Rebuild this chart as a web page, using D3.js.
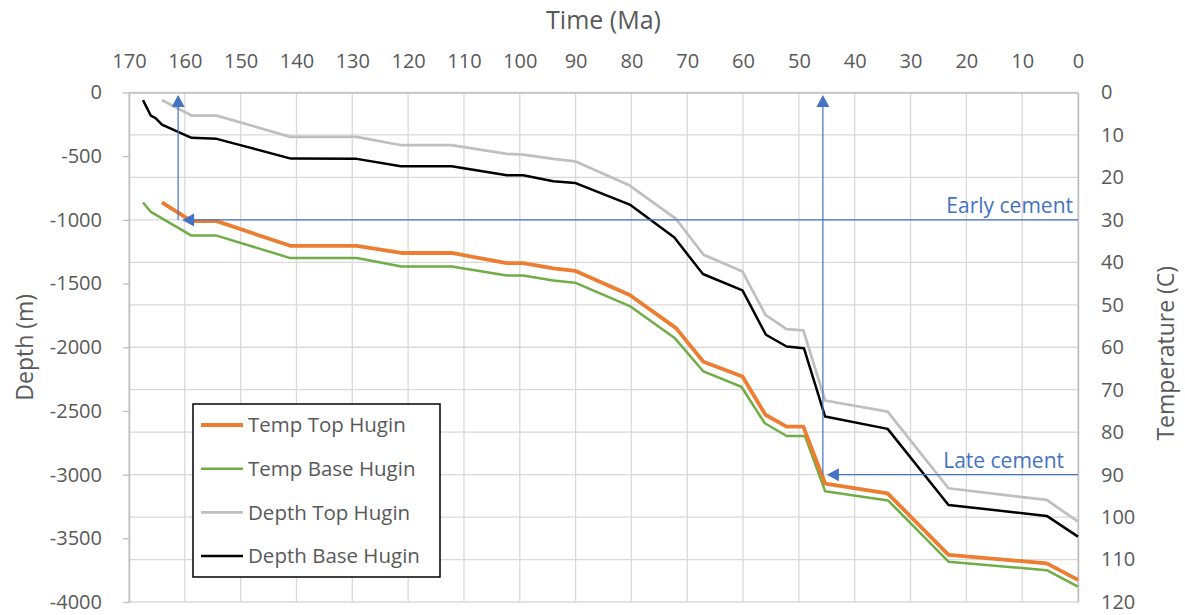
<!DOCTYPE html>
<html lang="en">
<head>
<meta charset="UTF-8">
<title>Hugin burial and temperature history</title>
<script src="https://d3js.org/d3.v7.min.js"></script>
<style>
  body { margin: 0; background: #fff; }
  text { font-family: "Open Sans", sans-serif; fill: #595959; }
</style>
</head>
<body>
<svg width="1185" height="615"></svg>
<script>
// axis ticks
const timeTicks = d3.range(170, -1, -10);
const depthTicks = d3.range(0, -4001, -500);
const tempTicks = d3.range(0, 121, 10);

// Top Hugin: time (Ma), depth (m), temperature (C)
const topTimes = [164.1, 158.8, 154.3, 141.1, 129.2, 121.2, 112.2, 102.3, 99.4, 94.0, 90.1, 80.3, 72.0, 67.1, 60.1, 56.0, 52.2, 49.2, 45.3, 34.1, 23.2, 5.6, 0];
const depthTop = [-60, -181, -181, -348, -348, -414, -414, -482, -487, -521, -540, -731, -993, -1273, -1406, -1745, -1857, -1868, -2418, -2505, -3107, -3199, -3369];
const tempTop = [25.9, 30.3, 30.3, 36.1, 36.1, 37.8, 37.8, 40.2, 40.2, 41.4, 42.0, 47.7, 55.5, 63.4, 66.9, 75.9, 78.7, 78.7, 92.1, 94.4, 108.9, 110.9, 114.8];

// Base Hugin
const depthBaseTimes = [167.5, 166.1, 165.3, 164.1, 161.5, 158.8, 154.3, 141.0, 129.2, 121.3, 112.2, 102.3, 99.4, 94.0, 90.1, 80.3, 72.3, 67.2, 60.1, 55.9, 52.2, 49.1, 45.3, 34.1, 23.2, 5.6, 0];
const depthBase = [-60, -181, -199, -252, -304, -356, -364, -519, -521, -579, -579, -650, -650, -697, -710, -880, -1139, -1425, -1554, -1902, -1994, -2007, -2544, -2641, -3238, -3324, -3487];
const tempBaseTimes = [167.5, 166.1, 158.8, 154.3, 141.1, 129.2, 121.2, 112.2, 102.3, 99.4, 94.0, 90.1, 80.3, 72.2, 67.1, 60.3, 56.1, 52.2, 48.9, 45.3, 34.0, 23.2, 5.6, 0];
const tempBase = [25.9, 28.1, 33.7, 33.7, 39.0, 39.0, 41.0, 41.0, 43.1, 43.1, 44.3, 44.8, 50.3, 57.9, 65.7, 69.3, 77.9, 80.9, 80.9, 93.9, 96.1, 110.5, 112.5, 116.4];

// cement events
const cementNames = ["Early cement", "Late cement"];
const cementTimes = [161.2, 45.7];
const cementTemps = [30, 90];

const legendNames = ["Temp Top Hugin", "Temp Base Hugin", "Depth Top Hugin", "Depth Base Hugin"];
const legendColors = ["#ed7d31", "#70ad47", "#bfbfbf", "#000000"];
const legendWidths = [3.8, 2.5, 2.75, 2.5];

const plotLeft = 129, plotRight = 1078, plotTop = 92.5, plotBottom = 602;
const svg = d3.select("svg");

const x = d3.scaleLinear().domain([170, 0]).range([plotLeft, plotRight]);
const yDepth = d3.scaleLinear().domain([0, -4000]).range([plotTop, plotBottom]);
const yTemp = d3.scaleLinear().domain([0, 120]).range([plotTop, plotBottom]);

// gridlines
svg.append("g").selectAll("line").data(tempTicks).join("line")
    .attr("x1", plotLeft).attr("x2", plotRight)
    .attr("y1", d => yTemp(d)).attr("y2", d => yTemp(d))
    .attr("stroke", "#d9d9d9").attr("stroke-width", 1.3);
svg.append("g").selectAll("line").data(timeTicks).join("line")
    .attr("x1", d => x(d)).attr("x2", d => x(d))
    .attr("y1", plotTop).attr("y2", plotBottom)
    .attr("stroke", "#d9d9d9").attr("stroke-width", 1.3);

// axes
function styleAxis(g) {
    g.attr("font-family", null).attr("font-size", null);
    g.select(".domain").attr("stroke", "#bfbfbf").attr("stroke-width", 1.5);
    g.selectAll(".tick line").attr("stroke", "#bfbfbf").attr("stroke-width", 1.3);
    g.selectAll(".tick text").attr("fill", "#595959").style("font-size", "20px");
}

svg.append("g")
    .attr("transform", `translate(0,${plotTop})`)
    .call(d3.axisTop(x).tickValues(timeTicks).tickSize(0).tickPadding(25).tickFormat(d => String(d)))
    .call(styleAxis);

svg.append("g")
    .attr("transform", `translate(${plotLeft},0)`)
    .call(d3.axisLeft(yDepth).tickValues(depthTicks).tickSize(6).tickSizeOuter(0).tickPadding(21).tickFormat(d => String(d)))
    .call(styleAxis);

svg.append("g")
    .attr("transform", `translate(${plotRight},0)`)
    .call(d3.axisRight(yTemp).tickValues(tempTicks).tickSize(0).tickPadding(23).tickFormat(d => String(d)))
    .call(styleAxis);

// axis titles
svg.append("text").attr("x", (plotLeft + plotRight) / 2).attr("y", 29)
    .attr("text-anchor", "middle").style("font-size", "25px").text("Time (Ma)");
svg.append("text").attr("transform", `translate(33,${(plotTop + plotBottom) / 2}) rotate(-90)`)
    .attr("text-anchor", "middle").style("font-size", "23px").text("Depth (m)");
svg.append("text").attr("transform", `translate(1174,${(plotTop + plotBottom) / 2 + 6}) rotate(-90)`)
    .attr("text-anchor", "middle").style("font-size", "23px").text("Temperature (C)");

// series
const series = [
    { times: topTimes, values: depthTop, y: yDepth, i: 2 },
    { times: depthBaseTimes, values: depthBase, y: yDepth, i: 3 },
    { times: tempBaseTimes, values: tempBase, y: yTemp, i: 1 },
    { times: topTimes, values: tempTop, y: yTemp, i: 0 }
];
series.forEach(s => {
    const line = d3.line().x(d => x(d[0])).y(d => s.y(d[1]));
    svg.append("path")
        .datum(d3.zip(s.times, s.values))
        .attr("d", line)
        .attr("fill", "none")
        .attr("stroke", legendColors[s.i])
        .attr("stroke-width", legendWidths[s.i])
        .attr("stroke-linejoin", "round");
});

// cement arrows, drawn over the curves
const blue = "#4472c4";
const ann = svg.append("g");
function arrowHead(tipX, tipY, dir) {
    const L = 12, W = 6.5;
    if (dir === "up") return `M${tipX},${tipY}L${tipX - W},${tipY + L}L${tipX + W},${tipY + L}Z`;
    return `M${tipX},${tipY}L${tipX + L},${tipY - W}L${tipX + L},${tipY + W}Z`;
}
cementNames.forEach((name, i) => {
    const cx = x(cementTimes[i]), cy = yTemp(cementTemps[i]);
    const tipY = yTemp(0.6);
    const tipX = cx + 4;
    ann.append("line").attr("x1", cx).attr("x2", cx).attr("y1", cy).attr("y2", tipY + 10)
        .attr("stroke", blue).attr("stroke-width", 1.2);
    ann.append("path").attr("d", arrowHead(cx, tipY, "up")).attr("fill", blue);
    ann.append("line").attr("x1", x(0)).attr("x2", tipX + 10).attr("y1", cy).attr("y2", cy)
        .attr("stroke", blue).attr("stroke-width", 1.2);
    ann.append("path").attr("d", arrowHead(tipX, cy, "left")).attr("fill", blue);
    ann.append("text").attr("x", x(0) - (i === 0 ? 5 : 14)).attr("y", cy - 14)
        .attr("text-anchor", "end").style("font-size", "21px").style("fill", blue)
        .attr("dy", "0.35em").text(name);
});

// legend
const lg = svg.append("g").attr("transform", "translate(193,404)");
lg.append("rect").attr("width", 247).attr("height", 173)
    .attr("fill", "#fff").attr("stroke", "#000").attr("stroke-width", 1.5);
legendNames.forEach((name, i) => {
    const yy = 21 + i * 43.7;
    lg.append("line").attr("x1", 8).attr("x2", 50).attr("y1", yy).attr("y2", yy)
        .attr("stroke", legendColors[i]).attr("stroke-width", legendWidths[i]);
    lg.append("text").attr("x", 55).attr("y", yy).attr("dy", "0.35em")
        .style("font-size", "20.5px").text(name);
});
</script>
</body>
</html>
